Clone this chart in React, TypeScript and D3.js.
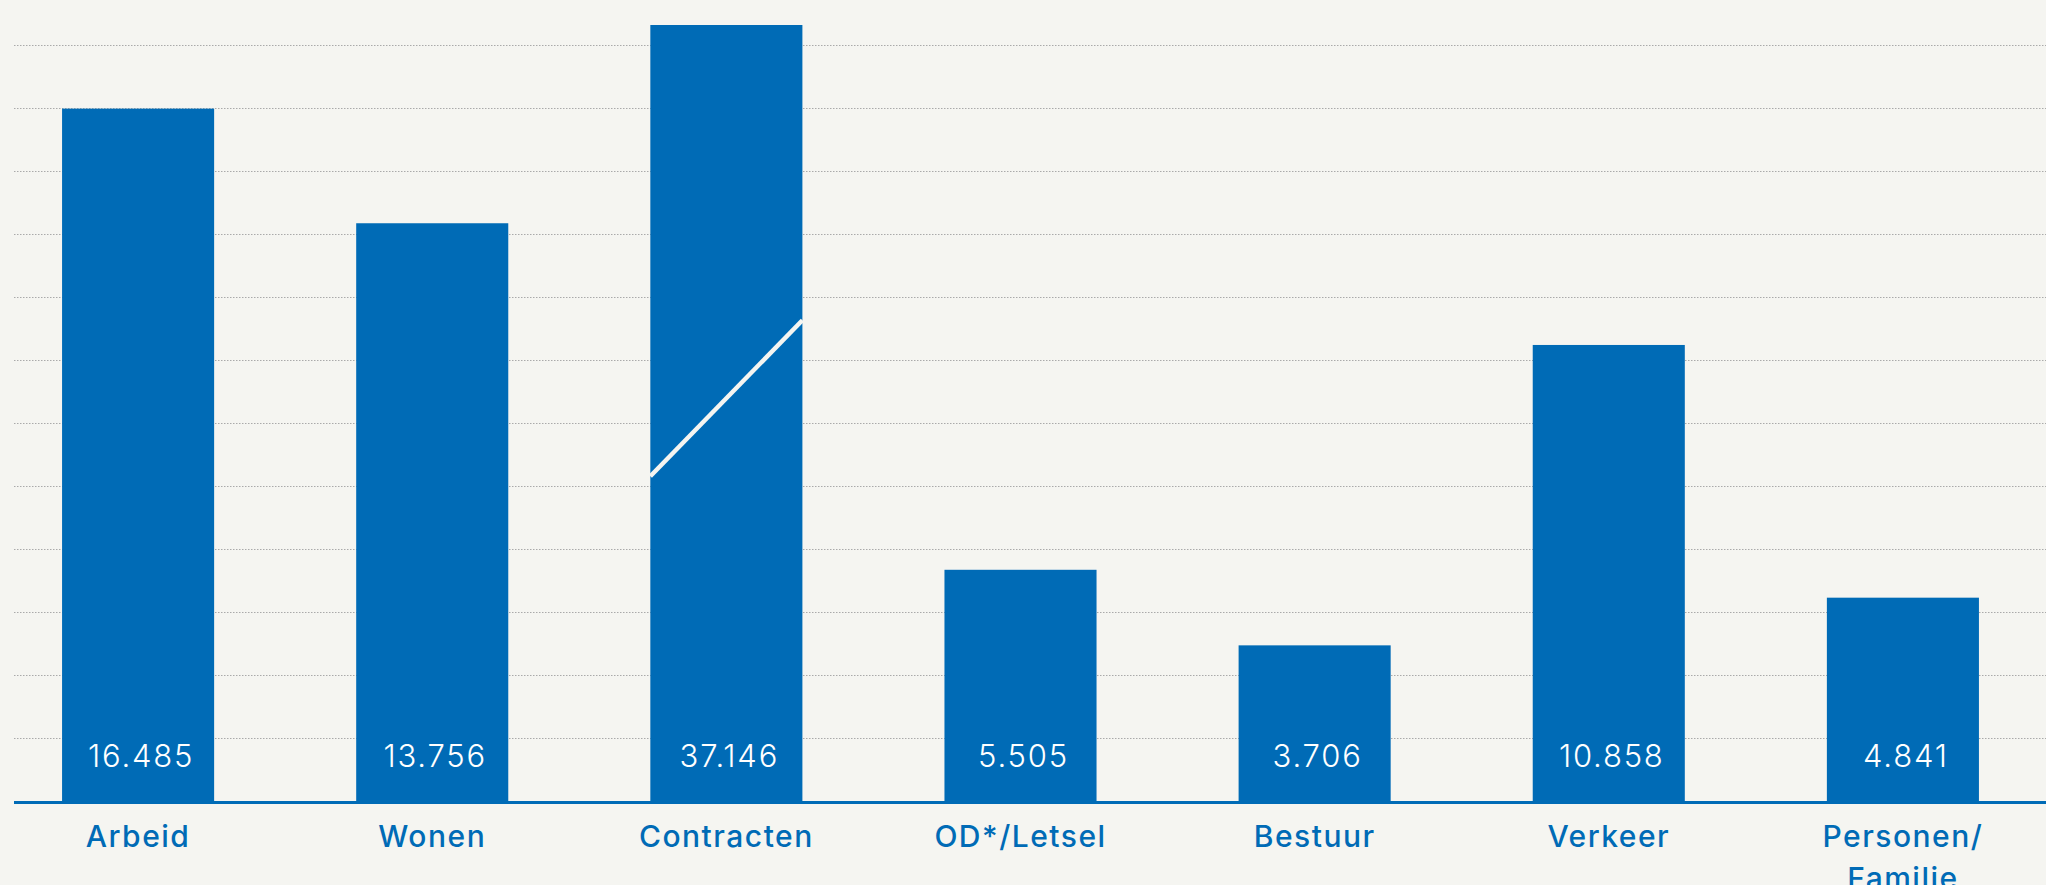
import React from 'react';
import * as d3 from 'd3';

// rechtsgebieden en aantallen zaken
const categories = ['Arbeid', 'Wonen', 'Contracten', 'OD*/Letsel', 'Bestuur', 'Verkeer', 'Personen/\nFamilie'];
const values = [16485, 13756, 37146, 5505, 3706, 10858, 4841];
const valueLabels = ['16.485', '13.756', '37.146', '5.505', '3.706', '10.858', '4.841'];
// de balk van Contracten is afgebroken, de breuk zit ongeveer hier
const brokenBar = 'Contracten';
const breakAt = 9590;
const yMax = 18000;
const gridStep = 1500;

const blue = '#006bb6';
const bg = '#f5f5f1';

export default function App() {
    const width = 2046;
    const height = 885;
    const margin = { top: 25, left: 14, baseline: 801 };
    const font = 'Inter, "Open Sans", sans-serif';

    const xScale = d3.scaleBand()
        .domain(categories)
        .range([margin.left, 2027])
        .paddingInner(0.483)
        .paddingOuter(0.1634);

    const yScale = d3.scaleLinear()
        .domain([0, yMax])
        .range([margin.baseline, 45]);

    const gridValues = d3.range(gridStep, yMax + 1, gridStep);
    const bw = xScale.bandwidth();

    const bars = categories.map((c, i) => {
        const x = xScale(c);
        const top = Math.max(margin.top, yScale(values[i]));
        return (
            <rect key={c} x={x} y={top} width={bw} height={margin.baseline - top} fill={blue} />
        );
    });

    const breakLine = (() => {
        const x = xScale(brokenBar);
        const yc = yScale(breakAt);
        return (
            <line x1={x} y1={yc + 78} x2={x + bw} y2={yc - 78} stroke={bg} strokeWidth="4.5" />
        );
    })();

    return (
        <svg width={width} height={height} style={{ position: 'absolute', left: 0, top: 0, display: 'block' }}>
            <rect x="0" y="0" width={width} height={height} fill={bg} />
            {gridValues.map(v => (
                <line key={v} x1={margin.left} x2={width} y1={yScale(v) + 0.5} y2={yScale(v) + 0.5}
                    stroke="#aaaaaa" strokeWidth="1" strokeDasharray="1.5 1.5" />
            ))}
            {bars}
            {breakLine}
            <line x1={margin.left} x2={width} y1={margin.baseline + 1.5} y2={margin.baseline + 1.5} stroke={blue} strokeWidth="3" />
            {categories.map((c, i) => (
                <text key={c} x={xScale(c) + bw / 2 + 3} y={767} fill="#ffffff" fontFamily={font}
                    fontWeight="300" fontSize="31" letterSpacing="1.8" textAnchor="middle">
                    {valueLabels[i]}
                </text>
            ))}
            {categories.map(c => (
                <text key={c} x={xScale(c) + bw / 2} y={847} fill={blue} fontFamily={font}
                    fontWeight="500" fontSize="30" letterSpacing="1.5" textAnchor="middle">
                    {c.split('\n').map((line, j) => (
                        <tspan key={j} x={xScale(c) + bw / 2} dy={j === 0 ? 0 : 42}>{line}</tspan>
                    ))}
                </text>
            ))}
        </svg>
    );
}
